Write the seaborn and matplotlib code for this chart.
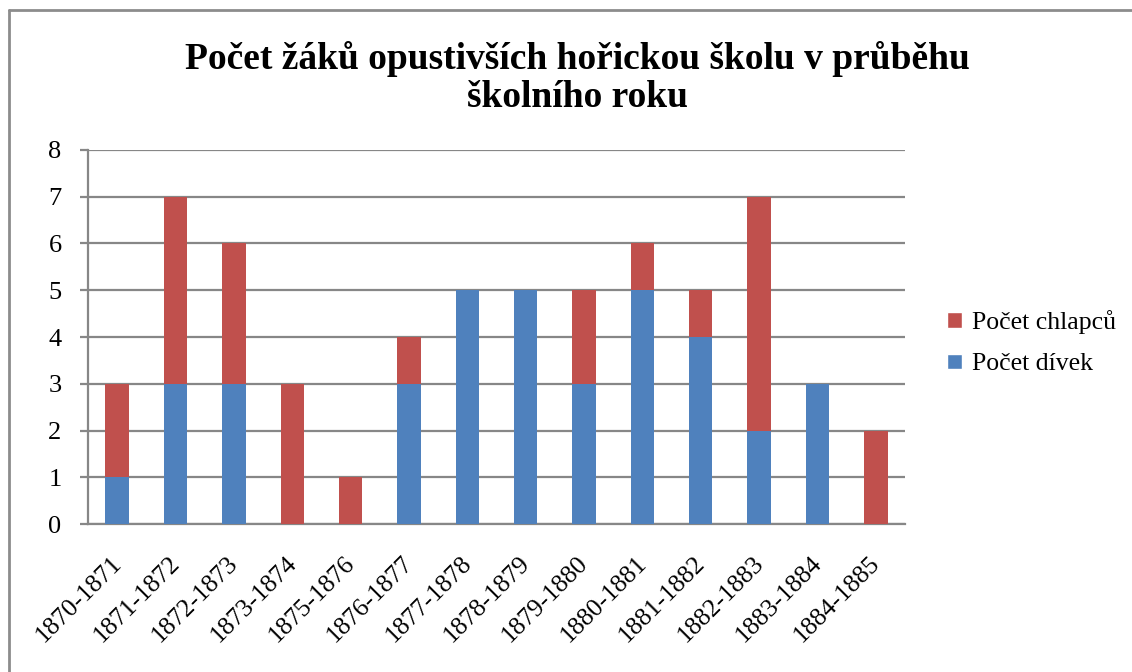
import pandas as pd
import seaborn as sns
import matplotlib.pyplot as plt
import matplotlib.transforms as mtransforms
from matplotlib.patches import Patch
from matplotlib.lines import Line2D

# school years and counts of pupils who left
years = ["1870-1871", "1871-1872", "1872-1873", "1873-1874", "1875-1876",
         "1876-1877", "1877-1878", "1878-1879", "1879-1880", "1880-1881",
         "1881-1882", "1882-1883", "1883-1884", "1884-1885"]
girls = [1, 3, 3, 0, 0, 3, 5, 5, 3, 5, 4, 2, 3, 0]
boys = [2, 4, 3, 3, 1, 1, 0, 0, 2, 1, 1, 5, 0, 2]

RED = "#C0504D"
BLUE = "#4F81BD"
GRID = "#878787"

df = pd.DataFrame({"year": years, "girls": girls, "boys": boys})
df["total"] = df["girls"] + df["boys"]

sns.set_style("white")
plt.rcParams["font.family"] = ["Liberation Serif", "DejaVu Serif"]
plt.rcParams["text.color"] = "black"
plt.rcParams["xtick.labelcolor"] = "black"
plt.rcParams["ytick.labelcolor"] = "black"

fig = plt.figure(figsize=(11.32, 6.72), dpi=100)
ax = fig.add_axes([0.0777, 0.2202, 0.7218, 0.5566])

# stacked look: total in red, girls drawn over it in blue
sns.barplot(data=df, x="year", y="total", color=RED, width=0.4,
            saturation=1, linewidth=0, ax=ax, zorder=3)
sns.barplot(data=df, x="year", y="girls", color=BLUE, width=0.4,
            saturation=1, linewidth=0, ax=ax, zorder=4)

ax.set_ylim(0, 8)
ax.set_xlim(-0.5, len(years) - 0.5)
ax.set_yticks(range(0, 9))
ax.set_xlabel("")
ax.set_ylabel("")
ax.yaxis.grid(True, color=GRID, linewidth=1.6, zorder=0)
ax.set_axisbelow(True)

for side in ["top", "right"]:
    ax.spines[side].set_visible(False)
for side in ["left", "bottom"]:
    ax.spines[side].set_color(GRID)
    ax.spines[side].set_linewidth(1.6)

ax.set_xticks([i - 0.5 for i in range(len(years) + 1)], minor=True)
ax.tick_params(axis="x", which="major", length=0, pad=20, labelsize=18.5)
ax.tick_params(axis="x", which="minor", length=6, width=1.6, color=GRID,
               direction="out")
ax.tick_params(axis="y", length=6, width=1.6, color=GRID, direction="out",
               labelsize=19, pad=13, left=True)
ax.set_xticks(range(len(years)))
ax.set_xticklabels(years, rotation=45, ha="right", rotation_mode="anchor")

shift = mtransforms.ScaledTranslation(-7 / 100, 0, fig.dpi_scale_trans)
for label in ax.get_xticklabels():
    label.set_transform(label.get_transform() + shift)

fig.text(0.51, 1 - 78 / 672,
         "Počet žáků opustivších hořickou školu v průběhu\nškolního roku",
         ha="center", va="center", fontsize=27, fontweight="bold",
         linespacing=1.12)

handles = [Patch(facecolor=RED, label="Počet chlapců"),
           Patch(facecolor=BLUE, label="Počet dívek")]
fig.legend(handles=handles, loc="center left", bbox_to_anchor=(0.8165, 0.49),
           frameon=False, fontsize=18.5, handlelength=0.55, handleheight=0.55,
           handletextpad=0.4, labelspacing=0.75)

# outer chart frame
fig.add_artist(Line2D([9 / 1132, 1.0], [1 - 10 / 672, 1 - 10 / 672],
                      color="#8c8c8c", linewidth=2))
fig.add_artist(Line2D([9 / 1132, 9 / 1132], [0.0, 1 - 10 / 672],
                      color="#8c8c8c", linewidth=2))

fig.savefig("out.png", dpi=100)
